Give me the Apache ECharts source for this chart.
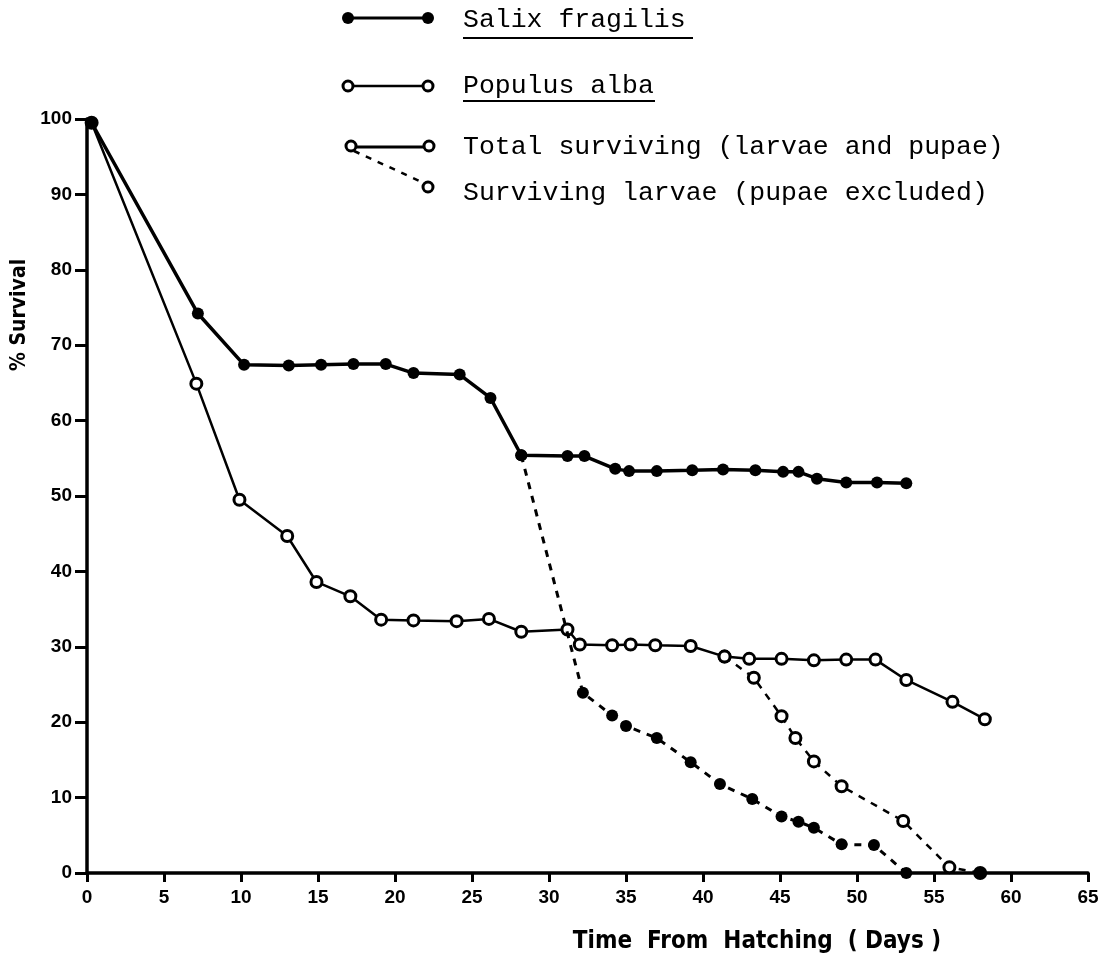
<!DOCTYPE html>
<html>
<head>
<meta charset="utf-8">
<script src="https://cdn.jsdelivr.net/npm/echarts@6/dist/echarts.min.js"></script>
<style>
html,body{margin:0;padding:0;background:#fff;}
#chart{width:1115px;height:963px;}
</style>
</head>
<body>
<div id="chart"></div>
<script>
// ---- data ----
const salixDays   = [0.3, 7.2, 10.2, 13.1, 15.2, 17.3, 19.4, 21.2, 24.2, 26.2, 28.2, 31.2, 32.3, 34.3, 35.2, 37.0, 39.3, 41.3, 43.4, 45.2, 46.2, 47.4, 49.3, 51.3, 53.2];
const salixTotal  = [99.5, 74.2, 67.4, 67.3, 67.4, 67.5, 67.5, 66.3, 66.1, 63.0, 55.4, 55.3, 55.3, 53.6, 53.3, 53.3, 53.4, 53.5, 53.4, 53.2, 53.2, 52.3, 51.8, 51.8, 51.7];

const salixLarvaeDays = [28.2, 32.2, 34.1, 35.0, 37.0, 39.2, 41.1, 43.2, 45.1, 46.2, 47.2, 49.0, 51.1, 53.2];
const salixLarvae     = [55.4, 23.9, 20.9, 19.5, 17.9, 14.7, 11.8, 9.8, 7.5, 6.8, 6.0, 3.8, 3.7, 0];

const populusDays  = [0.3, 7.1, 9.9, 13.0, 14.9, 17.1, 19.1, 21.2, 24.0, 26.1, 28.2, 31.2, 32.0, 34.1, 35.3, 36.9, 39.2, 41.4, 43.0, 45.1, 47.2, 49.3, 51.2, 53.2, 56.2, 58.3];
const populusTotal = [99.5, 64.9, 49.5, 44.7, 38.6, 36.7, 33.6, 33.5, 33.4, 33.7, 32.0, 32.3, 30.3, 30.2, 30.3, 30.2, 30.1, 28.7, 28.4, 28.4, 28.2, 28.3, 28.3, 25.6, 22.7, 20.4];

const populusLarvaeDays = [41.4, 43.3, 45.1, 46.0, 47.2, 49.0, 53.0, 56.0, 58.0];
const populusLarvae     = [28.7, 25.9, 20.8, 17.9, 14.8, 11.5, 6.9, 0.75, 0];

const xTicks = [0, 5, 10, 15, 20, 25, 30, 35, 40, 45, 50, 55, 60, 65];
const yTicks = [0, 10, 20, 30, 40, 50, 60, 70, 80, 90, 100];

const legendLabels = ['Salix fragilis', 'Populus alba', 'Total surviving (larvae and pupae)', 'Surviving larvae (pupae excluded)'];
const xTitle = 'Time  From  Hatching  ( Days )';
const yTitle = '% Survival';

// ---- build ----
const zip = (xs, ys) => xs.map((x, i) => [x, ys[i]]);
const popLarvaeData = zip(populusLarvaeDays, populusLarvae).map((p, i, a) =>
  i === a.length - 1 ? { value: p, itemStyle: { color: '#000' } } : p);

const chart = echarts.init(document.getElementById('chart'), null, { renderer: 'canvas' });
const tickFont = { fontFamily: 'Liberation Sans, Arial, sans-serif', fontWeight: 'bold', fontSize: 19, color: '#000' };
const monoFont = 'Liberation Mono, Courier New, monospace';
const legFont = '26.5px ' + monoFont;

const openSym = { color: '#fff', borderColor: '#000', borderWidth: 3 };

chart.setOption({
  animation: false,
  backgroundColor: '#fff',
  grid: { left: 87, right: 27, top: 119, bottom: 90, containLabel: false },
  xAxis: {
    type: 'value', min: 0, max: 65, interval: 5,
    axisLine: { show: true, onZero: false, lineStyle: { color: '#000', width: 3.5 } },
    axisTick: { show: true, inside: false, length: 9, lineStyle: { color: '#000', width: 3 } },
    axisLabel: Object.assign({ margin: 15, formatter: v => xTicks.includes(v) ? String(v) : '' }, tickFont),
    splitLine: { show: false }
  },
  yAxis: {
    type: 'value', min: 0, max: 100, interval: 10,
    axisLine: { show: true, onZero: false, lineStyle: { color: '#000', width: 3.5 } },
    axisTick: { show: true, inside: false, length: 12, lineStyle: { color: '#000', width: 3 } },
    axisLabel: Object.assign({ margin: 15, formatter: v => yTicks.includes(v) ? String(v) : '' }, tickFont),
    splitLine: { show: false }
  },
  series: [
    {
      type: 'line', name: 'Populus alba', data: zip(populusDays, populusTotal),
      symbol: 'circle', symbolSize: 11, clip: false, z: 2,
      lineStyle: { color: '#000', width: 2.5 }, itemStyle: openSym
    },
    {
      type: 'line', name: 'Populus larvae', data: popLarvaeData,
      symbol: 'circle', symbolSize: 11, clip: false, z: 2,
      lineStyle: { color: '#000', width: 2.5, type: [7, 7] }, itemStyle: openSym
    },
    {
      type: 'line', name: 'Salix larvae', data: zip(salixLarvaeDays, salixLarvae),
      symbol: 'circle', symbolSize: 12, clip: false, z: 3,
      lineStyle: { color: '#000', width: 3, type: [7, 7] }, itemStyle: { color: '#000' }
    },
    {
      type: 'line', name: 'Salix fragilis', data: zip(salixDays, salixTotal),
      symbol: 'circle', symbolSize: 12, clip: false, z: 4,
      lineStyle: { color: '#000', width: 3.5 }, itemStyle: { color: '#000' }
    }
  ],
  graphic: [
    // legend row 1
    { type: 'line', shape: { x1: 348, y1: 18, x2: 428, y2: 18 }, style: { stroke: '#000', lineWidth: 3 } },
    { type: 'circle', shape: { cx: 348, cy: 18, r: 6 }, style: { fill: '#000' } },
    { type: 'circle', shape: { cx: 428, cy: 18, r: 6 }, style: { fill: '#000' } },
    { type: 'text', x: 463, y: 20, style: { text: legendLabels[0], font: legFont, fill: '#000', verticalAlign: 'middle' } },
    { type: 'line', shape: { x1: 463, y1: 38, x2: 693, y2: 38 }, style: { stroke: '#000', lineWidth: 2 } },
    // legend row 2
    { type: 'line', shape: { x1: 348, y1: 86, x2: 428, y2: 86 }, style: { stroke: '#000', lineWidth: 2.5 } },
    { type: 'circle', shape: { cx: 348, cy: 86, r: 5 }, style: { fill: '#fff', stroke: '#000', lineWidth: 3 } },
    { type: 'circle', shape: { cx: 428, cy: 86, r: 5 }, style: { fill: '#fff', stroke: '#000', lineWidth: 3 } },
    { type: 'text', x: 463, y: 86, style: { text: legendLabels[1], font: legFont, fill: '#000', verticalAlign: 'middle' } },
    { type: 'line', shape: { x1: 463, y1: 101, x2: 655, y2: 101 }, style: { stroke: '#000', lineWidth: 2 } },
    // legend rows 3/4
    { type: 'line', shape: { x1: 352, y1: 147, x2: 428, y2: 147 }, style: { stroke: '#000', lineWidth: 3 } },
    { type: 'line', shape: { x1: 354, y1: 151, x2: 424, y2: 183 }, style: { stroke: '#000', lineWidth: 2.5, lineDash: [6, 7] } },
    { type: 'circle', shape: { cx: 351, cy: 146, r: 5 }, style: { fill: '#fff', stroke: '#000', lineWidth: 3 } },
    { type: 'circle', shape: { cx: 429, cy: 146, r: 5 }, style: { fill: '#fff', stroke: '#000', lineWidth: 3 } },
    { type: 'circle', shape: { cx: 428, cy: 187, r: 5 }, style: { fill: '#fff', stroke: '#000', lineWidth: 3 } },
    { type: 'text', x: 463, y: 147, style: { text: legendLabels[2], font: legFont, fill: '#000', verticalAlign: 'middle' } },
    { type: 'text', x: 463, y: 193, style: { text: legendLabels[3], font: legFont, fill: '#000', verticalAlign: 'middle' } },
    // axis titles
    { type: 'text', x: 757, y: 942, style: { text: xTitle, font: 'bold 24px DejaVu Sans Condensed, Liberation Sans, sans-serif', fill: '#000', align: 'center', verticalAlign: 'middle' } },
    { type: 'text', x: 20, y: 315, rotation: Math.PI / 2, style: { text: yTitle, font: 'bold 21px DejaVu Sans Condensed, Liberation Sans, sans-serif', fill: '#000', align: 'center', verticalAlign: 'middle' } }
  ]
});
</script>
</body>
</html>
